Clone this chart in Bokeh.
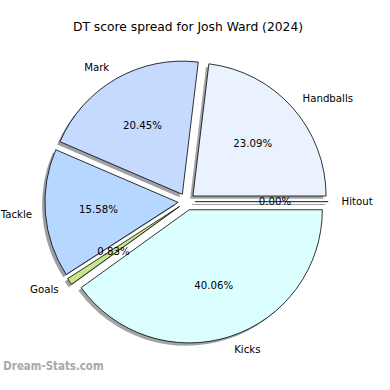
import numpy as np
from bokeh.plotting import figure
from bokeh.models import Range1d, ColumnDataSource
from bokeh.embed import file_html
from bokeh.resources import INLINE
from bokeh.core.properties import value

# ---- data ----
labels = ["Handballs", "Mark", "Tackle", "Goals", "Kicks", "Hitout"]
shares = [23.09, 20.45, 15.58, 0.83, 40.06, 0.00]
colors = ["#ebf2ff", "#c6d9ff", "#b6d7ff", "#c8e68c", "#dbffff", "#d0e0f0"]
title_text = "DT score spread for Josh Ward (2024)"
watermark = "Dream-Stats.com"

# ---- geometry (data space ~0..390, drawn in a 374 px figure) ----
W = H = 374
PAD = 3.0
D = 390.0
CX, CY = 194.0, 180.0
R = 141.0
EXPL = 9.0
SH = 3.0
FONT = value("DejaVu Sans")

vals = np.array(shares, dtype=float)
frac = vals / vals.sum()
ends = 2 * np.pi * np.cumsum(frac)
starts = ends - 2 * np.pi * frac
mids = (starts + ends) / 2
ox = CX + EXPL * np.cos(mids)
oy = CY + EXPL * np.sin(mids)


def shade(c):
    r, g, b = int(c[1:3], 16), int(c[3:5], 16), int(c[5:7], 16)
    f = lambda v: int(round(0.5 * 0.3 * v + 0.5 * 255))
    return "#%02x%02x%02x" % (f(r), f(g), f(b))


shadow_colors = [shade(c) for c in colors]

p = figure(width=W, height=H, output_backend="svg", toolbar_location=None,
           x_range=Range1d(-PAD, D + PAD), y_range=Range1d(-PAD, D + PAD), min_border=0)
p.axis.visible = False
p.grid.visible = False
p.outline_line_color = None
p.background_fill_color = "white"
p.border_fill_color = "white"

nz = vals > 0
z = ~nz

wsrc = ColumnDataSource(dict(
    x=ox[nz], y=oy[nz], s=starts[nz], e=ends[nz],
    fc=[c for c, k in zip(colors, nz) if k],
))
sh = ColumnDataSource(dict(
    x=ox[nz] - SH, y=oy[nz] - SH, s=starts[nz], e=ends[nz],
    sc=[c for c, k in zip(shadow_colors, nz) if k],
))
x1z = ox[z] + R * np.cos(mids[z])
y1z = oy[z] + R * np.sin(mids[z])
zsrc = ColumnDataSource(dict(x0=ox[z], y0=oy[z], x1=x1z, y1=y1z))
zsh = ColumnDataSource(dict(x0=ox[z] - SH, y0=oy[z] - SH, x1=x1z - SH, y1=y1z - SH,
                            sc=[c for c, k in zip(shadow_colors, z) if k]))

# shadows
p.wedge(x="x", y="y", radius=R, start_angle="s", end_angle="e", source=sh,
        fill_color="sc", line_color=None)
p.segment(x0="x0", y0="y0", x1="x1", y1="y1", source=zsh, line_color="sc", line_width=1.2)

# wedges
p.wedge(x="x", y="y", radius=R, start_angle="s", end_angle="e", source=wsrc,
        fill_color="fc", line_color="black", line_width=0.8)
p.segment(x0="x0", y0="y0", x1="x1", y1="y1", source=zsrc, line_color="black", line_width=0.9)

# labels
lx = ox + 1.1 * R * np.cos(mids)
ly = oy + 1.1 * R * np.sin(mids)
align = ["left" if np.cos(m) > 0 else "right" for m in mids]
p.text(x="x", y="y", text="t", text_align="a", source=ColumnDataSource(dict(
    x=lx, y=ly, t=labels, a=align)), text_baseline="middle", text_font=FONT,
    text_font_size="10.2px", text_color="black")

px = ox + 0.6 * R * np.cos(mids)
py = oy + 0.6 * R * np.sin(mids)
pct = ["%.2f%%" % v for v in vals]
p.text(x=px, y=py, text=pct, text_align="center", text_baseline="middle",
       text_font=FONT, text_font_size="10.2px", text_color="black")

# title
p.text(x=[195.5], y=[365], text=[title_text], text_align="center", text_baseline="middle",
       text_font=FONT, text_font_size="12.3px", text_color="black")

# watermark
p.text(x=[0], y=[6], text=[watermark], text_align="left", text_baseline="alphabetic",
       text_font=value("DejaVu Sans Condensed"), text_font_size="11.4px",
       text_font_style="bold", text_color="#a8a8a8")

open("out.html", "w").write(file_html(p, INLINE))
